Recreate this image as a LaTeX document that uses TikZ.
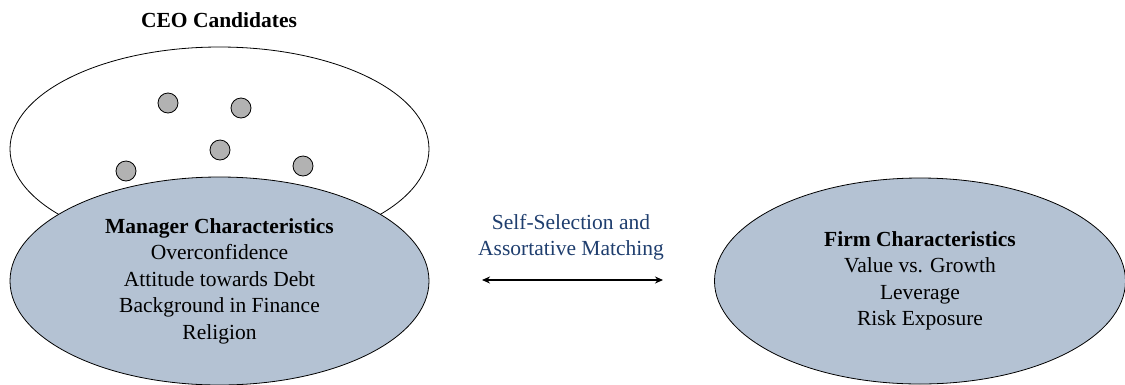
\documentclass[tikz,border=0pt]{standalone}
\usepackage{fontspec}
\setmainfont{Liberation Serif}
\usetikzlibrary{shapes.geometric,arrows.meta}
\definecolor{ovalfill}{RGB}{180,194,211}
\definecolor{dotfill}{RGB}{178,178,178}
\definecolor{linkblue}{RGB}{31,62,110}
\begin{document}
\begin{tikzpicture}[x=1pt,y=-1pt,
  txt/.style={font=\fontsize{21.5}{26.5}\selectfont, align=center, inner sep=0pt},
  oval/.style={ellipse, draw=black, line width=0.8pt, inner sep=0pt},
  candidate/.style={circle, draw=black, fill=dotfill, line width=0.8pt, minimum size=20pt, inner sep=0pt},
  tip/.tip={Stealth[length=8pt,width=7pt]}]
\useasboundingbox (0,0) rectangle (1125,384);

% pool of candidates
\node[txt, font=\fontsize{21.5}{26.5}\selectfont\bfseries] (title) at (219,20) {CEO Candidates};
\node[oval, minimum width=419pt, minimum height=204pt] (pool) at (219.5,149) {};
\node[candidate] (c1) at (168,103) {};
\node[candidate] (c2) at (241,108) {};
\node[candidate] (c3) at (220,150) {};
\node[candidate] (c4) at (126,171) {};
\node[candidate] (c5) at (303,166) {};

% manager side
\node[oval, fill=ovalfill, minimum width=419pt, minimum height=208pt] (mgr) at (219.5,281) {};
\node[txt] (mgrtext) at (mgr.center) {\textbf{Manager Characteristics}\\Overconfidence\\Attitude towards Debt\\Background in Finance\\Religion};

% firm side
\node[oval, fill=ovalfill, minimum width=411pt, minimum height=206pt] (firm) at (920,281) {};
\node[txt] (firmtext) at (firm.center) {\textbf{Firm Characteristics}\\Value vs. Growth\\Leverage\\Risk Exposure};

% matching link
\coordinate (la) at (482,280);
\coordinate (lb) at (663,280);
\draw[line width=1.5pt, tip-tip] (la) -- (lb);
\node[txt, text=linkblue] (linklabel) at (571,237) {Self-Selection and\\Assortative Matching};
\end{tikzpicture}
\end{document}
